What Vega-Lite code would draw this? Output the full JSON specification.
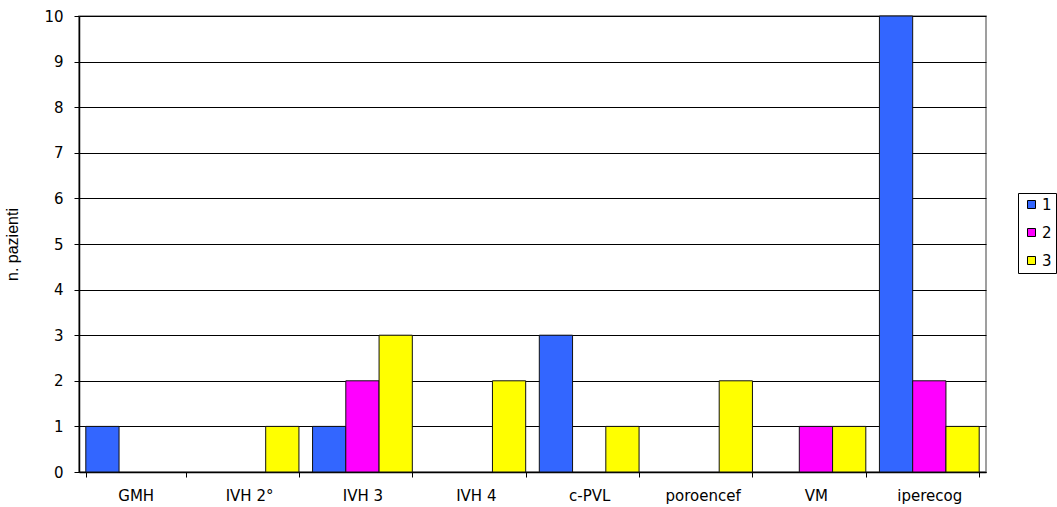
{
  "$schema": "https://vega.github.io/schema/vega-lite/v6.json",
  "width": 907,
  "height": 456,
  "autosize": {"type": "none"},
  "padding": {"left": 79, "top": 16, "right": 71, "bottom": 35},
  "background": "white",
  "config": {
    "font": "DejaVu Sans",
    "view": {"stroke": "#808080", "strokeWidth": 1.5},
    "axis": {"labelColor": "black", "titleColor": "black", "labelFont": "DejaVu Sans", "titleFont": "Liberation Sans"}
  },
  "data": {
    "values": [
      {"cat": "GMH", "serie": "1", "n": 1},
      {"cat": "GMH", "serie": "2", "n": 0},
      {"cat": "GMH", "serie": "3", "n": 0},
      {"cat": "IVH 2°", "serie": "1", "n": 0},
      {"cat": "IVH 2°", "serie": "2", "n": 0},
      {"cat": "IVH 2°", "serie": "3", "n": 1},
      {"cat": "IVH 3", "serie": "1", "n": 1},
      {"cat": "IVH 3", "serie": "2", "n": 2},
      {"cat": "IVH 3", "serie": "3", "n": 3},
      {"cat": "IVH 4", "serie": "1", "n": 0},
      {"cat": "IVH 4", "serie": "2", "n": 0},
      {"cat": "IVH 4", "serie": "3", "n": 2},
      {"cat": "c-PVL", "serie": "1", "n": 3},
      {"cat": "c-PVL", "serie": "2", "n": 0},
      {"cat": "c-PVL", "serie": "3", "n": 1},
      {"cat": "poroencef", "serie": "1", "n": 0},
      {"cat": "poroencef", "serie": "2", "n": 0},
      {"cat": "poroencef", "serie": "3", "n": 2},
      {"cat": "VM", "serie": "1", "n": 0},
      {"cat": "VM", "serie": "2", "n": 1},
      {"cat": "VM", "serie": "3", "n": 1},
      {"cat": "iperecog", "serie": "1", "n": 10},
      {"cat": "iperecog", "serie": "2", "n": 2},
      {"cat": "iperecog", "serie": "3", "n": 1}
    ]
  },
  "transform": [{"filter": "datum.n > 0"}],
  "mark": {"type": "bar", "stroke": "#111111", "strokeWidth": 1},
  "encoding": {
    "x": {
      "field": "cat",
      "type": "nominal",
      "sort": ["GMH", "IVH 2°", "IVH 3", "IVH 4", "c-PVL", "poroencef", "VM", "iperecog"],
      "title": null,
      "scale": {
        "domain": ["GMH", "IVH 2°", "IVH 3", "IVH 4", "c-PVL", "poroencef", "VM", "iperecog"],
        "paddingInner": 0.12,
        "paddingOuter": 0.06
      },
      "axis": {
        "labelAngle": 0,
        "labelFontSize": 15,
        "labelPadding": 11,
        "tickBand": "extent",
        "tickSize": 5,
        "tickColor": "black",
        "domainColor": "black",
        "domainWidth": 1.5
      }
    },
    "xOffset": {"field": "serie", "type": "nominal", "scale": {"domain": ["1", "2", "3"]}},
    "y": {
      "field": "n",
      "type": "quantitative",
      "title": "n. pazienti",
      "scale": {"domain": [0, 10], "nice": false},
      "axis": {
        "values": [0, 1, 2, 3, 4, 5, 6, 7, 8, 9, 10],
        "labelFontSize": 15,
        "labelPadding": 11,
        "tickSize": 5,
        "tickColor": "black",
        "domainColor": "black",
        "domainWidth": 1.5,
        "gridColor": "black",
        "gridWidth": 1,
        "titleFontSize": 16,
        "titleFontWeight": "normal",
        "titleX": -59,
        "titleY": 228,
        "titleAnchor": "middle"
      }
    },
    "color": {
      "field": "serie",
      "type": "nominal",
      "title": null,
      "scale": {"domain": ["1", "2", "3"], "range": ["#3366FF", "#FF00FF", "#FFFF00"]},
      "legend": {
        "orient": "none",
        "legendX": 939,
        "legendY": 177,
        "strokeColor": "black",
        "padding": 4,
        "symbolType": "square",
        "symbolSize": 64,
        "symbolStrokeColor": "black",
        "symbolStrokeWidth": 1,
        "symbolOffset": 2,
        "labelFont": "DejaVu Sans",
        "labelFontSize": 15,
        "labelColor": "black",
        "labelOffset": 3,
        "rowPadding": 12
      }
    }
  }
}
